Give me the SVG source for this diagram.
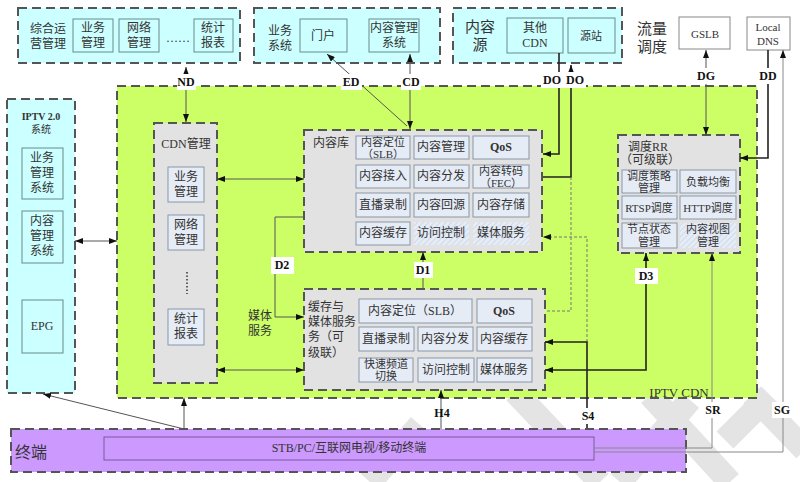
<svg xmlns="http://www.w3.org/2000/svg" width="800" height="482" viewBox="0 0 800 482">
<defs>
<style>
text{font-family:"Liberation Serif","Noto Sans CJK SC",serif;fill:#333;font-size:12px;text-anchor:middle;dominant-baseline:central}
.t{text-anchor:start}
.dash{stroke:#555;stroke-width:2;stroke-dasharray:9,5}
.cyan{fill:#ccffff}
.green{fill:#ccff66}
.gray{fill:#e2e2e2}
.purple{fill:#cc99ff}
.cell{fill:#e6ecf6;stroke:#8a96a6;stroke-width:1}
.ocell{fill:none;stroke:#6a8a8a;stroke-width:1}
.hatch{fill:url(#h)}
.lbl{font-weight:bold;font-size:12px;fill:#111}
.lb{fill:#fff}
.c{fill:none;stroke:#555;stroke-width:1}
.ck{fill:none;stroke:#222;stroke-width:1.6}
.cd{fill:none;stroke:#777;stroke-width:1;stroke-dasharray:3,2}
.cg{fill:none;stroke:#888;stroke-width:1}
.wm{stroke:#e4e4e4;stroke-width:24;fill:none}
</style>
<marker id="a" markerWidth="8" markerHeight="6" refX="8" refY="3" orient="auto-start-reverse" markerUnits="userSpaceOnUse"><path d="M0,0L8,3L0,6z" fill="#111"/></marker>
<pattern id="h" width="4" height="4" patternUnits="userSpaceOnUse" patternTransform="rotate(45)"><rect width="4" height="4" fill="#e6ecf6"/><line x1="0" y1="0" x2="0" y2="4" stroke="#c8d4e6" stroke-width="1.5"/></pattern>
</defs>

<g id="watermark">
<path class="wm" d="M515,392L600,482M370,482L420,425M620,482L690,400M650,395L730,482M725,440L770,395M752,395L805,450"/>
</g>

<g id="ops">
<rect x="18" y="8" width="222" height="55" class="cyan dash"/>
<text x="48" y="29">综合运</text><text x="48" y="44">营管理</text>
<rect x="73" y="19" width="40" height="33" class="ocell"/><text x="93" y="28">业务</text><text x="93" y="43">管理</text>
<rect x="119" y="19" width="40" height="33" class="ocell"/><text x="139" y="28">网络</text><text x="139" y="43">管理</text>
<text x="178" y="38">……</text>
<rect x="194" y="19" width="39" height="33" class="ocell"/><text x="213" y="28">统计</text><text x="213" y="43">报表</text>
</g>

<g id="biz">
<rect x="254" y="8" width="186" height="55" class="cyan dash"/>
<text x="280" y="31">业务</text><text x="280" y="46">系统</text>
<rect x="300" y="19" width="47" height="33" class="ocell"/><text x="323" y="36">门户</text>
<rect x="369" y="19" width="50" height="33" class="ocell"/><text x="394" y="28">内容管理</text><text x="394" y="43">系统</text>
</g>

<g id="src">
<rect x="453" y="8" width="169" height="55" class="cyan dash"/>
<text x="480" y="27" style="font-size:15px">内容</text><text x="480" y="45" style="font-size:15px">源</text>
<rect x="507" y="18" width="56" height="35" class="ocell"/><text x="535" y="28">其他</text><text x="535" y="43">CDN</text>
<rect x="568" y="18" width="47" height="35" class="ocell"/><text x="591" y="36" style="font-size:11px">源站</text>
</g>

<g id="traffic">
<text x="652" y="29" style="font-size:15px">流量</text><text x="652" y="47" style="font-size:15px">调度</text>
</g>
<g id="gslb"><rect x="679" y="17" width="51" height="32" fill="#fff" stroke="#888"/><text x="705" y="34" style="font-size:11px">GSLB</text></g>
<g id="dns"><rect x="747" y="17" width="43" height="33" fill="#fff" stroke="#888"/><text x="768" y="27" style="font-size:11px">Local</text><text x="768" y="41" style="font-size:11px">DNS</text></g>

<g id="iptv2">
<rect x="7" y="99" width="68" height="294" class="cyan dash"/>
<text x="41" y="116" style="font-size:10px;font-weight:bold">IPTV 2.0</text><text x="41" y="129" style="font-size:10px">系统</text>
<rect x="22" y="148" width="41" height="51" class="ocell"/><text x="42" y="158">业务</text><text x="42" y="173">管理</text><text x="42" y="188">系统</text>
<rect x="22" y="211" width="41" height="52" class="ocell"/><text x="42" y="221">内容</text><text x="42" y="236">管理</text><text x="42" y="251">系统</text>
<rect x="22" y="300" width="41" height="53" class="ocell"/><text x="42" y="326">EPG</text>
</g>

<g id="iptvcdn">
<rect x="117" y="86" width="640" height="312" class="green dash"/>
<text x="679" y="392" style="font-size:13px">IPTV CDN</text>
<text x="260" y="316">媒体</text><text x="260" y="331">服务</text>
</g>

<g id="terminal">
<rect x="11" y="429" width="675" height="43" class="purple dash"/>
<text x="31" y="452" style="font-size:16px">终端</text>
<rect x="104" y="437" width="490" height="23" fill="none" stroke="#7a5a9a"/>
<text x="349" y="448">STB/PC/互联网电视/移动终端</text>
</g>

<g id="cdnmgmt">
<rect x="154" y="123" width="63" height="260" class="gray dash"/>
<text x="186" y="144">CDN管理</text>
<rect x="168" y="167" width="36" height="35" class="cell"/><text x="186" y="177">业务</text><text x="186" y="192">管理</text>
<rect x="168" y="215" width="36" height="35" class="cell"/><text x="186" y="225">网络</text><text x="186" y="240">管理</text>
<line x1="187" y1="272" x2="187" y2="294" stroke="#333" stroke-width="1.5" stroke-dasharray="1.5,2"/>
<rect x="168" y="309" width="36" height="36" class="cell"/><text x="186" y="319">统计</text><text x="186" y="334">报表</text>
</g>

<g id="repo">
<rect x="304" y="130" width="238" height="122" class="gray dash"/>
<text x="331" y="143">内容库</text>
<rect x="356" y="136" width="54" height="23" class="cell"/><text x="383" y="142" style="font-size:11px">内容定位</text><text x="383" y="154" style="font-size:11px">（SLB）</text>
<rect x="414" y="136" width="55" height="23" class="cell"/><text x="441" y="147">内容管理</text>
<rect x="473" y="136" width="56" height="23" class="cell"/><text x="501" y="147" style="font-weight:bold">QoS</text>
<rect x="356" y="165" width="54" height="23" class="cell"/><text x="383" y="176">内容接入</text>
<rect x="414" y="165" width="55" height="23" class="cell"/><text x="441" y="176">内容分发</text>
<rect x="473" y="165" width="56" height="23" class="cell"/><text x="501" y="171" style="font-size:11px">内容转码</text><text x="501" y="183" style="font-size:11px">（FEC）</text>
<rect x="356" y="193" width="54" height="24" class="cell"/><text x="383" y="205">直播录制</text>
<rect x="414" y="193" width="55" height="24" class="cell"/><text x="441" y="205">内容回源</text>
<rect x="473" y="193" width="56" height="24" class="cell"/><text x="501" y="205">内容存储</text>
<rect x="356" y="222" width="54" height="23" class="cell"/><text x="383" y="233">内容缓存</text>
<rect x="414" y="222" width="55" height="23" class="hatch"/><text x="441" y="233">访问控制</text>
<rect x="473" y="222" width="56" height="23" class="hatch"/><text x="501" y="233">媒体服务</text>
</g>

<g id="cache">
<rect x="304" y="289" width="241" height="101" class="gray dash"/>
<text x="308" y="307" class="t">缓存与</text><text x="308" y="322" class="t">媒体服务</text><text x="308" y="337" class="t">务（可</text><text x="308" y="353" class="t">级联）</text>
<rect x="359" y="299" width="113" height="24" class="cell"/><text x="415" y="311">内容定位（SLB）</text>
<rect x="477" y="299" width="55" height="24" class="cell"/><text x="504" y="311" style="font-weight:bold">QoS</text>
<rect x="359" y="327" width="55" height="24" class="cell"/><text x="386" y="339">直播录制</text>
<rect x="418" y="327" width="55" height="24" class="cell"/><text x="445" y="339">内容分发</text>
<rect x="477" y="327" width="55" height="24" class="cell"/><text x="504" y="339">内容缓存</text>
<rect x="359" y="358" width="54" height="24" class="cell"/><text x="386" y="364" style="font-size:11px">快速频道</text><text x="386" y="376" style="font-size:11px">切换</text>
<rect x="418" y="358" width="56" height="24" class="cell"/><text x="446" y="370">访问控制</text>
<rect x="477" y="358" width="55" height="24" class="cell"/><text x="504" y="370">媒体服务</text>
</g>

<g id="rr">
<rect x="618" y="135" width="122" height="118" class="gray dash"/>
<text x="628" y="147" class="t">调度RR</text><text x="620" y="160" class="t">（可级联）</text>
<rect x="622" y="170" width="55" height="23" class="cell"/><text x="649" y="176" style="font-size:11px">调度策略</text><text x="649" y="188" style="font-size:11px">管理</text>
<rect x="680" y="170" width="56" height="23" class="cell"/><text x="708" y="182" style="font-size:11px">负载均衡</text>
<rect x="622" y="196" width="55" height="23" class="cell"/><text x="649" y="208" style="font-size:11px">RTSP调度</text>
<rect x="680" y="196" width="56" height="23" class="cell"/><text x="708" y="208" style="font-size:11px">HTTP调度</text>
<rect x="622" y="223" width="55" height="25" class="cell"/><text x="649" y="229" style="font-size:11px">节点状态</text><text x="649" y="242" style="font-size:11px">管理</text>
<rect x="680" y="223" width="56" height="25" class="hatch"/><text x="708" y="229" style="font-size:11px">内容视图</text><text x="708" y="242" style="font-size:11px">管理</text>
</g>

<g id="connectors">
<path class="c" d="M186,122L186,67" marker-start="url(#a)" marker-end="url(#a)"/>
<path class="c" d="M407,126L327,54" marker-end="url(#a)"/>
<path class="c" d="M410,129L410,54" marker-start="url(#a)" marker-end="url(#a)"/>
<path class="ck" d="M559,53L559,154L543,154" marker-end="url(#a)"/>
<path class="ck" d="M543,177L571,177L571,65" marker-end="url(#a)"/>
<path class="cd" d="M571,177L571,311L545,311"/>
<path class="cd" d="M587,342L587,237L543,237" marker-end="url(#a)"/>
<path class="ck" d="M587,428L587,342L545,342" marker-end="url(#a)"/>
<path class="ck" d="M545,370L646,370L646,253" marker-start="url(#a)" marker-end="url(#a)"/>
<path class="c" d="M706,50L706,135" marker-start="url(#a)" marker-end="url(#a)"/>
<path class="ck" d="M768,50L768,158L740,158" marker-end="url(#a)"/>
<path class="cg" d="M594,452L783,452L783,50" marker-end="url(#a)"/>
<path class="cg" d="M594,448L712,448L712,253" marker-end="url(#a)"/>
<path class="c" d="M423,289L423,252" marker-end="url(#a)"/>
<path class="c" d="M441,429L441,390" marker-end="url(#a)"/>
<path class="c" d="M304,217L275,217L275,317L304,317" marker-end="url(#a)"/>
<path class="c" d="M217,179L304,179" marker-start="url(#a)" marker-end="url(#a)"/>
<path class="c" d="M217,370L304,370" marker-start="url(#a)" marker-end="url(#a)"/>
<path class="c" d="M75,241L117,241" marker-start="url(#a)" marker-end="url(#a)"/>
<path class="c" d="M184,429L184,398" marker-end="url(#a)"/>
<path class="c" d="M184,429L43,394" marker-end="url(#a)"/>

<rect x="177" y="74" width="19" height="16" class="lb"/><text x="186" y="82" class="lbl">ND</text>
<rect x="341" y="74" width="21" height="16" class="lb"/><text x="351" y="82" class="lbl">ED</text>
<rect x="401" y="74" width="20" height="16" class="lb"/><text x="411" y="82" class="lbl">CD</text>
<rect x="541" y="72" width="45" height="16" class="lb"/><text x="552" y="80" class="lbl">DO</text><text x="575" y="80" class="lbl">DO</text>
<rect x="696" y="68" width="21" height="16" class="lb"/><text x="706" y="76" class="lbl">DG</text>
<rect x="758" y="68" width="21" height="16" class="lb"/><text x="768" y="76" class="lbl">DD</text>
<rect x="271" y="257" width="23" height="17" class="lb"/><text x="282" y="265" class="lbl">D2</text>
<rect x="414" y="262" width="19" height="16" class="lb"/><text x="423" y="270" class="lbl">D1</text>
<rect x="635" y="268" width="23" height="16" class="lb"/><text x="646" y="276" class="lbl">D3</text>
<text x="442" y="413" class="lbl">H4</text>
<rect x="578" y="408" width="20" height="16" class="lb"/><text x="588" y="416" class="lbl">S4</text>
<rect x="702" y="402" width="22" height="16" class="lb"/><text x="713" y="410" class="lbl">SR</text>
<rect x="772" y="402" width="21" height="16" class="lb"/><text x="782" y="410" class="lbl">SG</text>
</g>
</svg>
